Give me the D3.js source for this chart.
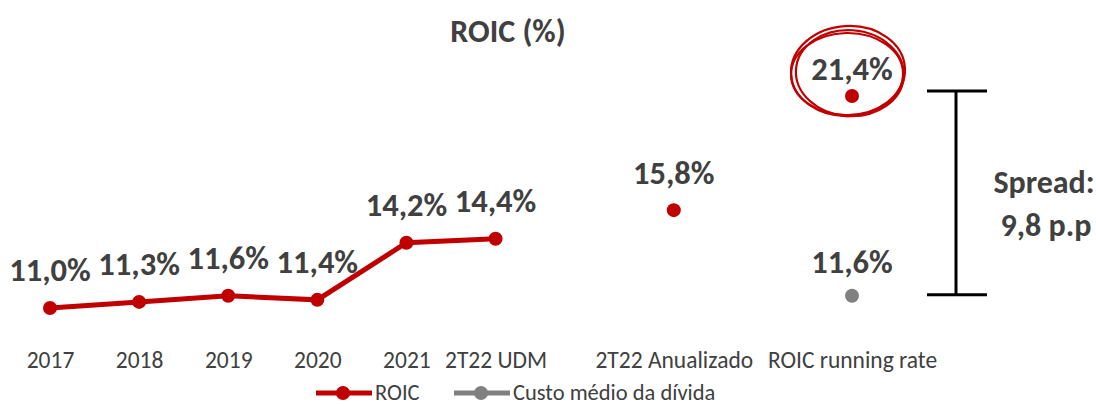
<!DOCTYPE html>
<html lang="pt">
<head>
<meta charset="UTF-8">
<title>ROIC (%)</title>
<style>
  body { margin: 0; background: #fff; }
  text { font-family: Carlito, Calibri, Lato, sans-serif; }
</style>
</head>
<body>
<div id="chart"></div>
<script src="https://d3js.org/d3.v7.min.js"></script>
<script>
// categories (empty slots keep the gaps between groups)
var categories = ["2017", "2018", "2019", "2020", "2021", "2T22 UDM", "", "2T22 Anualizado", "", "ROIC running rate"];
var roicLine = [11.0, 11.3, 11.6, 11.4, 14.2, 14.4];
var roicAnnual = [{cat: "2T22 Anualizado", v: 15.8}, {cat: "ROIC running rate", v: 21.4}];
var custoDivida = [{cat: "ROIC running rate", v: 11.6}];
var spreadText = ["Spread:", "9,8 p.p"];

var W = 1096, H = 406;
var red = "#C00000", gray = "#808080", dark = "#404040";
var font = "Carlito, Calibri, Lato, sans-serif";

var svg = d3.select("#chart").append("svg")
    .attr("width", W).attr("height", H);

var x = d3.scalePoint().domain(d3.range(categories.length)).range([50, 852]);
var xc = function (c) { return x(categories.indexOf(c)); };
var y = d3.scaleLinear().domain([11, 21.4]).range([308, 96]);
var fmt = function (v) { return v.toFixed(1).replace(".", ",") + "%"; };

// title
svg.append("text").attr("x", 508).attr("y", 42)
    .attr("text-anchor", "middle").attr("font-size", 32).attr("font-weight", "bold")
    .attr("fill", dark).text("ROIC (%)");

// category axis (labels only)
var axis = d3.axisBottom(x).tickSize(0).tickPadding(3)
    .tickFormat(function (i) { return categories[i]; });
var gAxis = svg.append("g").attr("transform", "translate(0,348)").call(axis);
gAxis.select(".domain").remove();
gAxis.selectAll("text").attr("font-size", 23.5).attr("fill", dark)
    .style("font-family", font);

// ROIC line
var lineData = roicLine.map(function (v, i) { return {i: i, v: v}; });
svg.append("path").datum(lineData)
    .attr("fill", "none").attr("stroke", red).attr("stroke-width", 5)
    .attr("d", d3.line().x(function (d) { return x(d.i); }).y(function (d) { return y(d.v); }));

svg.append("g").selectAll("circle").data(lineData).enter().append("circle")
    .attr("cx", function (d) { return x(d.i); }).attr("cy", function (d) { return y(d.v); })
    .attr("r", 7).attr("fill", red);

svg.append("g").selectAll("text").data(lineData).enter().append("text")
    .attr("x", function (d) { return x(d.i); }).attr("y", function (d) { return y(d.v) - 27; })
    .attr("text-anchor", "middle").attr("font-size", 32.5).attr("font-weight", "bold")
    .attr("fill", dark).text(function (d) { return fmt(d.v); });

// standalone ROIC points
svg.append("g").selectAll("circle").data(roicAnnual).enter().append("circle")
    .attr("cx", function (d) { return xc(d.cat); }).attr("cy", function (d) { return y(d.v); })
    .attr("r", 7).attr("fill", red);
svg.append("g").selectAll("text").data(roicAnnual).enter().append("text")
    .attr("x", function (d) { return xc(d.cat); })
    .attr("y", function (d, i) { return y(d.v) - (i === 0 ? 26 : 16); })
    .attr("text-anchor", "middle").attr("font-size", 32.5).attr("font-weight", "bold")
    .attr("fill", dark).text(function (d) { return fmt(d.v); });

// custo medio da divida
svg.append("g").selectAll("circle").data(custoDivida).enter().append("circle")
    .attr("cx", function (d) { return xc(d.cat); }).attr("cy", function (d) { return y(d.v); })
    .attr("r", 7).attr("fill", gray);
svg.append("g").selectAll("text").data(custoDivida).enter().append("text")
    .attr("x", function (d) { return xc(d.cat); }).attr("y", function (d) { return y(d.v) - 23; })
    .attr("text-anchor", "middle").attr("font-size", 32.5).attr("font-weight", "bold")
    .attr("fill", dark).text(function (d) { return fmt(d.v); });

// hand-drawn circle around running rate
var peak = roicAnnual[1];
var ecx = xc(peak.cat) - 4, ecy = y(peak.v) - 25;
var scribble = [
    {rx: 57, ry: 45, dx: 0, dy: 0, rot: -3},
    {rx: 54, ry: 43, dx: 2, dy: 2, rot: 4},
    {rx: 56, ry: 41, dx: -1, dy: 3, rot: -1}
];
svg.append("g").selectAll("ellipse").data(scribble).enter().append("ellipse")
    .attr("cx", function (d) { return ecx + d.dx; }).attr("cy", function (d) { return ecy + d.dy; })
    .attr("rx", function (d) { return d.rx; }).attr("ry", function (d) { return d.ry; })
    .attr("transform", function (d) { return "rotate(" + d.rot + "," + ecx + "," + ecy + ")"; })
    .attr("fill", "none").attr("stroke", red).attr("stroke-width", 2.2);

// spread bracket
var bx = 956, bTop = y(peak.v) - 5, bBot = y(custoDivida[0].v) - 1;
var br = svg.append("g").attr("stroke", "#000").attr("stroke-width", 3);
br.append("line").attr("x1", bx).attr("x2", bx).attr("y1", bTop).attr("y2", bBot);
br.append("line").attr("x1", bx - 29).attr("x2", bx + 31).attr("y1", bTop).attr("y2", bTop);
br.append("line").attr("x1", bx - 29).attr("x2", bx + 31).attr("y1", bBot).attr("y2", bBot);

svg.append("g").selectAll("text").data(spreadText).enter().append("text")
    .attr("x", function (d, i) { return i === 0 ? 1044 : 1046; })
    .attr("y", function (d, i) { return 193 + i * 43; })
    .attr("text-anchor", "middle").attr("font-size", 32).attr("font-weight", "bold")
    .attr("fill", dark).text(function (d) { return d; });

// legend
var legend = [{name: "ROIC", color: red, x: 316}, {name: "Custo médio da dívida", color: gray, x: 454}];
var lg = svg.append("g").selectAll("g").data(legend).enter().append("g")
    .attr("transform", function (d) { return "translate(" + d.x + ",393)"; });
lg.append("line").attr("x1", 0).attr("x2", 56).attr("y1", 0).attr("y2", 0)
    .attr("stroke", function (d) { return d.color; }).attr("stroke-width", 5);
lg.append("circle").attr("cx", 27).attr("r", 7).attr("fill", function (d) { return d.color; });
lg.append("text").attr("x", 59).attr("y", 7).attr("font-size", 22.5).attr("fill", dark)
    .text(function (d) { return d.name; });
</script>
</body>
</html>
